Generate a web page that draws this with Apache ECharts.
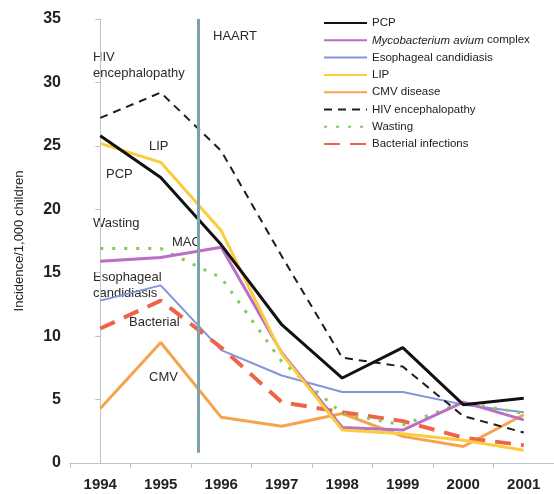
<!DOCTYPE html>
<html lang="en">
<head>
<meta charset="UTF-8">
<script src="https://cdn.jsdelivr.net/npm/echarts@6/dist/echarts.min.js"></script>
<title>Incidence</title>
<style>
  *{margin:0;padding:0}
  html,body{width:100%;height:100%;background:#fff}
  #main{width:554px;height:494px}
</style>
</head>
<body>
<div id="main"></div>
<script type="text/javascript">
// years on the x axis
var years = ['1994', '1995', '1996', '1997', '1998', '1999', '2000', '2001'];
// incidence per 1,000 children
var pcp        = [25.8, 22.5, 17.2, 10.9, 6.7, 9.1, 4.6, 5.1];
var mac        = [15.9, 16.2, 17.0, 8.7, 2.8, 2.6, 4.8, 3.4];
var esophageal = [12.8, 14.0, 8.9, 6.9, 5.6, 5.6, 4.6, 4.0];
var lip        = [25.2, 23.7, 18.3, 8.6, 2.6, 2.3, 1.8, 1.0];
var cmv        = [4.3, 9.5, 3.6, 2.9, 3.9, 2.1, 1.3, 3.8];
var hiv        = [27.2, 29.2, 24.6, 16.3, 8.3, 7.6, 3.7, 2.4];
var wasting    = [16.9, 16.9, 14.6, 8.0, 3.9, 3.0, 4.8, 3.9];
var bacterial  = [10.6, 12.8, 9.1, 4.8, 4.0, 3.3, 2.0, 1.4];
// HAART start, between 1995 and 1996 (category index units)
var haartX = 1.62;

var myChart = echarts.init(document.getElementById('main'));

function mk(name, data, color, width, type) {
  return {
    name: name, type: 'line', data: data,
    symbol: 'none', showSymbol: false,
    lineStyle: {color: color, width: width, type: type || 'solid'},
    itemStyle: {color: color},
    emphasis: {disabled: true},
    z: 3
  };
}

var txt = function (x, y, s) {
  return {type: 'text', x: x, y: y, style: {text: s, font: '13px "Liberation Sans", Arial', fill: '#2b2b2b', textVerticalAlign: 'middle', lineHeight: 16}};
};

var option = {
  backgroundColor: '#fff',
  animation: false,
  grid: {left: 70, top: 19, width: 496, bottom: 31},
  legend: {
    orient: 'vertical', left: 318, top: 12,
    itemWidth: 43, itemHeight: 14, itemGap: 5.3,
    itemStyle: {opacity: 0},
    textStyle: {fontSize: 11.5, color: '#222', fontFamily: '"Liberation Sans", Arial',
      rich: {i: {fontStyle: 'italic', fontSize: 11.5, color: '#222', fontFamily: '"Liberation Sans", Arial'}}},
    formatter: function (n) {
      if (n === 'Mycobacterium avium complex') return '{i|Mycobacterium avium} complex';
      return n;
    },
    data: ['PCP', 'Mycobacterium avium complex', 'Esophageal candidiasis', 'LIP', 'CMV disease', 'HIV encephalopathy', 'Wasting', 'Bacterial infections']
  },
  xAxis: [{
    type: 'category', data: years, boundaryGap: true,
    axisLine: {lineStyle: {color: '#b9c5cc', width: 1}},
    axisTick: {show: true, length: 5, lineStyle: {color: '#b9c5cc'}},
    axisLabel: {fontSize: 15, fontWeight: 'bold', color: '#222', margin: 14, fontFamily: '"Liberation Sans", Arial'}
  }, {
    type: 'value', min: -0.5, max: 7.5, show: false
  }],
  yAxis: {
    type: 'value', min: 0, max: 35, interval: 5,
    name: 'Incidence/1,000 children', nameLocation: 'middle', nameGap: 44,
    nameTextStyle: {fontSize: 13, color: '#222', fontFamily: '"Liberation Sans", Arial'},
    axisLine: {show: true, lineStyle: {color: '#b9c5cc'}},
    axisTick: {show: true, length: 5, lineStyle: {color: '#b9c5cc'}},
    splitLine: {show: false},
    axisLabel: {fontSize: 16, fontWeight: 'bold', color: '#222', margin: 9, fontFamily: '"Liberation Sans", Arial'}
  },
  series: [
    mk('CMV disease', cmv, '#f7a34c', 3),
    mk('Esophageal candidiasis', esophageal, '#8394da', 2),
    mk('Bacterial infections', bacterial, '#ef6448', 4, [16, 10]),
    mk('Wasting', wasting, '#7fcb5b', 3, [3, 9]),
    mk('Mycobacterium avium complex', mac, '#b86fc4', 3),
    mk('LIP', lip, '#fbcd3c', 3),
    mk('HIV encephalopathy', hiv, '#1e1e1e', 2, [8, 6]),
    mk('PCP', pcp, '#111', 3),
    {
      type: 'line', xAxisIndex: 1, data: [], silent: true,
      markLine: {
        symbol: 'none', silent: true, label: {show: false},
        lineStyle: {color: '#7ea2ad', width: 3, type: 'solid'},
        data: [[{coord: [haartX, 0.8]}, {coord: [haartX, 35]}]]
      }
    }
  ],
  graphic: [
    txt(213, 36, 'HAART'),
    txt(93, 65, 'HIV\nencephalopathy'),
    txt(149, 146, 'LIP'),
    txt(106, 174, 'PCP'),
    txt(93, 223, 'Wasting'),
    txt(172, 242, 'MAC'),
    txt(93, 285, 'Esophageal\ncandidiasis'),
    txt(129, 322, 'Bacterial'),
    txt(149, 377, 'CMV')
  ]
};
myChart.setOption(option);
</script>
</body>
</html>
